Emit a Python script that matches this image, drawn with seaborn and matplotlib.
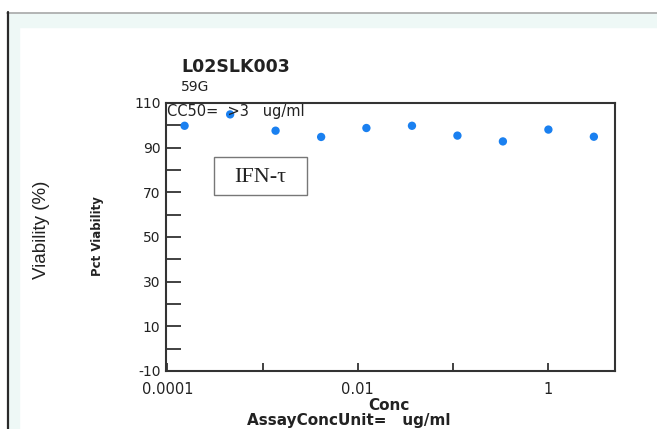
import matplotlib
matplotlib.use("Agg")
import matplotlib.pyplot as plt
import seaborn as sns
import pandas as pd
from matplotlib.patches import Rectangle
from matplotlib.lines import Line2D
from matplotlib.ticker import FixedLocator, NullFormatter

conc = [0.000152, 0.000457, 0.00137, 0.00412, 0.0123, 0.037, 0.111, 0.333, 1.0, 3.0]
viability = [99.8, 104.9, 97.6, 94.8, 98.8, 99.8, 95.4, 92.8, 98.1, 94.9]
y_major = [-10, 10, 30, 50, 70, 90, 110]
y_minor = [0, 20, 40, 60, 80, 100]
x_major = [0.0001, 0.001, 0.01, 0.1, 1]
x_labels = ["0.0001", "", "0.01", "", "1"]

sns.set_theme(style="white")
plt.rcParams['font.family'] = ['DejaVu Sans']
plt.rcParams['axes.unicode_minus'] = False

W, H = 657, 429
fig = plt.figure(figsize=(W/100, H/100), dpi=100)
fig.patch.set_facecolor("white")

mint = "#eef8f6"
def fx(px): return px / W
def fy(py): return 1 - py / H
fig.patches.append(Rectangle((fx(8), fy(27)), fx(W) - fx(8), fy(13) - fy(27),
                             transform=fig.transFigure, color=mint, zorder=0))
fig.patches.append(Rectangle((fx(8), 0), fx(19) - fx(8), fy(27),
                             transform=fig.transFigure, color=mint, zorder=0))
fig.lines.append(Line2D([fx(7), 1], [fy(12.5), fy(12.5)], transform=fig.transFigure,
                        color="#a8a8a8", lw=1.2))
fig.lines.append(Line2D([fx(7.5), fx(7.5)], [0, fy(12)], transform=fig.transFigure,
                        color="#2a2a2a", lw=1.6))

ax = fig.add_axes([166/W, 1 - 371/H, (615-166)/W, (371-103)/H])
ax.set_facecolor("white")
df = pd.DataFrame({"Conc": conc, "Viability": viability})
sns.scatterplot(data=df, x="Conc", y="Viability", ax=ax, color="#1a80f0",
                s=36, edgecolor="none", legend=False, zorder=3, clip_on=False)
ax.set_xscale("log")
ax.set_xlim(9.7e-5, 5.0)
ax.set_ylim(-10, 110)

ax.yaxis.set_major_locator(FixedLocator(y_major))
ax.yaxis.set_minor_locator(FixedLocator(y_minor))
ax.xaxis.set_major_locator(FixedLocator(x_major))
ax.xaxis.set_minor_locator(FixedLocator([]))
ax.set_xticklabels(x_labels)
ax.xaxis.set_minor_formatter(NullFormatter())
ax.tick_params(axis="y", which="major", direction="in", length=11, width=1.3,
               color="#333333", labelsize=10, pad=4, left=True, labelcolor="#222222")
ax.tick_params(axis="y", which="minor", direction="in", length=11, width=1.3,
               color="#333333", left=True)
ax.tick_params(axis="x", which="major", direction="in", length=6, width=1.3,
               color="#333333", labelsize=10.5, pad=8, bottom=True, labelcolor="#222222")
for sp in ax.spines.values():
    sp.set_color("#333333")
    sp.set_linewidth(1.5)
ax.set_xlabel("")
ax.set_ylabel("")

ax.text(0.003, 0.997, "CC50=  >3   ug/ml", transform=ax.transAxes, ha="left", va="top",
        fontsize=10.5, color="#222222")

fig.text(181/W, fy(67), "L02SLK003", ha="left", va="center", fontsize=12.5,
         fontweight="bold", color="#222222")
fig.text(181/W, fy(87), "59G", ha="left", va="center", fontsize=10, color="#222222")

fig.patches.append(Rectangle((fx(214), fy(195)), fx(307) - fx(214), fy(157) - fy(195),
                             transform=fig.transFigure, facecolor="white",
                             edgecolor="#777777", lw=1.0, zorder=5))
fig.text(fx(260.5), fy(177), "IFN-τ", ha="center", va="center", fontsize=16,
         family=["Liberation Serif", "DejaVu Serif"], color="#222222", zorder=6)

fig.text(fx(42), fy(230), "Viability (%)", rotation=90, ha="center", va="center",
         fontsize=13.5, family=["Liberation Sans", "DejaVu Sans"], color="#222222")
fig.text(fx(97), fy(236), "Pct Viability", rotation=90, ha="center", va="center",
         fontsize=8.5, fontweight="bold", color="#222222")
fig.text(fx(389), fy(405), "Conc", ha="center", va="center", fontsize=11,
         fontweight="bold", color="#222222")
fig.text(fx(349), fy(421), "AssayConcUnit=   ug/ml", ha="center", va="center", fontsize=11,
         fontweight="bold", color="#222222")

fig.savefig("out.png", dpi=100)
